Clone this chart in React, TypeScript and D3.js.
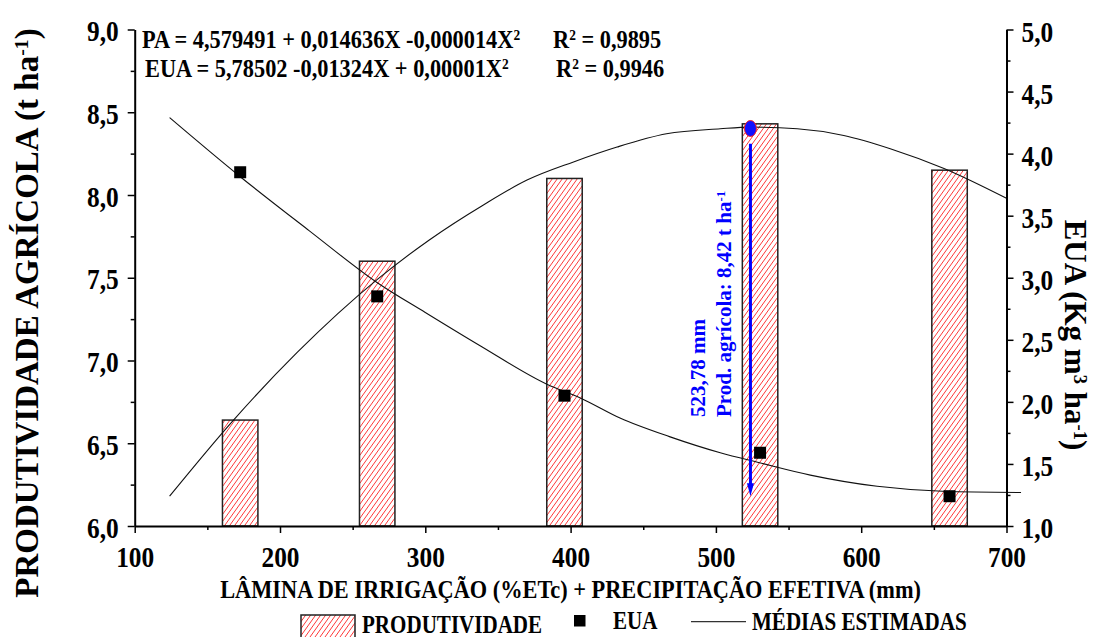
import React, { useEffect, useRef } from "react";
import * as d3 from "d3";

// lâmina de irrigação + precipitação efetiva (mm)
const lamina = [172.6, 266.9, 395.8, 530.4, 660.8];
// produtividade agrícola (t ha-1) - eixo esquerdo
const produtividade = [6.64, 7.6, 8.1, 8.43, 8.15];
// EUA (kg m3 ha-1) - eixo direito
const eua = [3.85, 2.85, 2.05, 1.59, 1.24];

// médias estimadas
const paCurveX = [124, 168, 212, 267, 303, 340, 370, 402, 432, 466, 503, 524, 556, 588, 620, 657, 700];
const paCurveY = [6.18, 6.64, 7.05, 7.49, 7.73, 7.94, 8.09, 8.2, 8.29, 8.37, 8.4, 8.41, 8.4, 8.36, 8.28, 8.16, 7.98];
const euaCurveX = [124, 172, 220, 267, 300, 338, 384, 407, 434, 468, 503, 530, 565, 611, 656, 710];
const euaCurveY = [4.29, 3.82, 3.38, 2.96, 2.72, 2.45, 2.14, 2.03, 1.87, 1.72, 1.59, 1.51, 1.41, 1.32, 1.28, 1.27];

const xTicks = [100, 200, 300, 400, 500, 600, 700];
const xMinor = [150, 250, 350, 450, 550, 650];
const leftTicks = [6, 6.5, 7, 7.5, 8, 8.5, 9];
const leftMinor = [6.25, 6.75, 7.25, 7.75, 8.25, 8.75];
const rightTicks = [1, 1.5, 2, 2.5, 3, 3.5, 4, 4.5, 5];
const rightMinor = [1.25, 1.75, 2.25, 2.75, 3.25, 3.75, 4.25, 4.75];

// ponto de máxima
const laminaMax = 523.78;
const prodMax = 8.42;
const setaTopo = 8.31;
const setaFim = 6.18;
const barLargura = 24.4;

const W = 1095;
const H = 637;
const FONT = "'Liberation Serif', 'Times New Roman', serif";
const SX = 0.86; // texto horizontal um pouco comprimido, como no original

const App = () => {
    const ref = useRef<SVGSVGElement>(null);

    useEffect(() => {
        const svg = d3.select(ref.current);
        svg.selectAll("*").remove();

        const x = d3.scaleLinear().domain([100, 700]).range([134.7, 1006.5]);
        const yL = d3.scaleLinear().domain([6, 9]).range([526, 29.5]);
        const yR = d3.scaleLinear().domain([1, 5]).range([526, 29.5]);
        const fmt = (d: any) => d3.format(".1f")(d).replace(".", ",");

        // hachura vermelha
        const pat = svg.append("defs").append("pattern")
            .attr("id", "hatch")
            .attr("patternUnits", "userSpaceOnUse")
            .attr("width", 5)
            .attr("height", 7);
        pat.append("rect").attr("width", 5).attr("height", 7).attr("fill", "#fff");
        pat.append("path")
            .attr("d", "M-1,8.4L6,-1.4M-6,8.4L1,-1.4M4,8.4L11,-1.4")
            .attr("stroke", "#ff2020")
            .attr("stroke-width", 0.9);

        // barras
        svg.append("g").selectAll("rect")
            .data(lamina)
            .join("rect")
            .attr("x", d => x(d - barLargura / 2))
            .attr("width", d => x(d + barLargura / 2) - x(d - barLargura / 2))
            .attr("y", (d, i) => yL(produtividade[i]))
            .attr("height", (d, i) => yL(6) - yL(produtividade[i]))
            .attr("fill", "url(#hatch)")
            .attr("stroke", "#222")
            .attr("stroke-width", 1.5);

        // curvas
        const lineL = d3.line<number>()
            .x(d => x(d))
            .y((d, i) => yL(paCurveY[i]))
            .curve(d3.curveMonotoneX);
        const lineR = d3.line<number>()
            .x(d => x(d))
            .y((d, i) => yR(euaCurveY[i]))
            .curve(d3.curveMonotoneX);
        svg.append("path").attr("d", lineL(paCurveX)).attr("fill", "none").attr("stroke", "#111").attr("stroke-width", 1.1);
        svg.append("path").attr("d", lineR(euaCurveX)).attr("fill", "none").attr("stroke", "#111").attr("stroke-width", 1.1);

        // pontos EUA
        svg.append("g").selectAll("rect")
            .data(lamina)
            .join("rect")
            .attr("x", d => x(d) - 6)
            .attr("y", (d, i) => yR(eua[i]) - 6)
            .attr("width", 12)
            .attr("height", 12)
            .attr("fill", "#000");

        // eixos
        const styleAxis = (g: any) => {
            g.attr("font-family", FONT).attr("font-size", 29.5).attr("font-weight", "bold");
            g.select(".domain").attr("stroke-width", 2);
            g.selectAll(".tick line").attr("stroke-width", 1.5);
            g.selectAll(".tick text").each(function (this: any) {
                const t = d3.select(this);
                t.attr("x", (+t.attr("x") || 0) / SX).attr("transform", `scale(${SX},1)`);
            });
        };
        const minor = (g: any) => {
            g.select(".domain").remove();
            g.selectAll(".tick line").attr("stroke-width", 1.5);
        };

        svg.append("g").attr("transform", `translate(0,${yL(6)})`)
            .call(d3.axisBottom(x).tickValues(xMinor).tickSize(4).tickFormat(() => ""))
            .call(minor);
        svg.append("g").attr("transform", `translate(0,${yL(6)})`)
            .call(d3.axisBottom(x).tickValues(xTicks).tickSize(7).tickSizeOuter(0).tickPadding(13).tickFormat(d3.format("d")))
            .call(styleAxis);

        svg.append("g").attr("transform", `translate(${x(100)},0)`)
            .call(d3.axisLeft(yL).tickValues(leftMinor).tickSize(4).tickFormat(() => ""))
            .call(minor);
        const axL = svg.append("g").attr("transform", `translate(${x(100)},0)`)
            .call(d3.axisLeft(yL).tickValues(leftTicks).tickSize(7).tickSizeOuter(0).tickPadding(9).tickFormat(fmt))
            .call(styleAxis);
        axL.selectAll(".tick text").attr("dy", "0.38em");

        svg.append("g").attr("transform", `translate(${x(700)},0)`)
            .call(d3.axisRight(yR).tickValues(rightMinor).tickSize(4).tickFormat(() => ""))
            .call(minor);
        const axR = svg.append("g").attr("transform", `translate(${x(700)},0)`)
            .call(d3.axisRight(yR).tickValues(rightTicks).tickSize(7).tickSizeOuter(0).tickPadding(8).tickFormat(fmt))
            .call(styleAxis);
        axR.selectAll(".tick text").attr("dy", "0.4em");

        // textos
        const bold = (sel: any, size: number) =>
            sel.attr("font-family", FONT).attr("font-weight", "bold").attr("font-size", size).attr("fill", "#000");
        const htext = (px: number, py: number, size: number) =>
            bold(svg.append("text"), size).attr("transform", `translate(${px},${py}) scale(${SX},1)`);

        const sup = (t: any, s: string, back: string) => {
            t.append("tspan").attr("dy", "-0.5em").attr("font-size", "0.6em").text(s);
            t.append("tspan").attr("dy", "0.3em").text(back);
        };

        htext((x(100) + x(700)) / 2, 598, 26)
            .attr("text-anchor", "middle")
            .text("LÂMINA DE IRRIGAÇÃO (%ETc) + PRECIPITAÇÃO EFETIVA (mm)");

        const tL = bold(svg.append("text"), 33)
            .attr("transform", "translate(38,313) rotate(-90)")
            .attr("text-anchor", "middle");
        tL.append("tspan").text("PRODUTIVIDADE AGRÍCOLA (t ha");
        sup(tL, "-1", ")");

        const tR = bold(svg.append("text"), 31)
            .attr("transform", "translate(1065,335) rotate(90)")
            .attr("text-anchor", "middle");
        tR.append("tspan").text("EUA (Kg m");
        sup(tR, "3", " ha");
        sup(tR, "-1", ")");

        // equações
        const eq = (txt: string, r2: string, x0: number, xr: number, y0: number) => {
            const t = htext(x0, y0, 26);
            t.append("tspan").text(txt);
            t.append("tspan").attr("dy", "-0.5em").attr("font-size", "0.6em").text("2");
            const r = htext(xr, y0, 26);
            r.append("tspan").text("R");
            sup(r, "2", " = " + r2);
        };
        eq("PA = 4,579491 + 0,014636X -0,000014X", "0,9895", 142, 553, 48);
        eq("EUA = 5,78502 -0,01324X + 0,00001X", "0,9946", 145, 556, 77);

        // ponto de máxima e seta
        const xm = x(laminaMax);
        svg.append("line")
            .attr("x1", xm).attr("x2", xm)
            .attr("y1", yL(setaTopo)).attr("y2", yL(setaFim) - 10)
            .attr("stroke", "#0000ff").attr("stroke-width", 3);
        svg.append("path")
            .attr("d", `M${xm - 3.5},${yL(setaFim) - 13}L${xm + 3.5},${yL(setaFim) - 13}L${xm},${yL(setaFim)}Z`)
            .attr("fill", "#0000ff");
        svg.append("ellipse")
            .attr("cx", xm).attr("cy", yL(prodMax) + 3)
            .attr("rx", 6).attr("ry", 8)
            .attr("fill", "#1010ff").attr("stroke", "#ff2020").attr("stroke-width", 1);

        bold(svg.append("text"), 21)
            .attr("transform", `translate(${xm - 45},417) rotate(-90)`)
            .attr("fill", "#0000ff")
            .text("523,78 mm");
        const tp = bold(svg.append("text"), 21)
            .attr("transform", `translate(${xm - 19},417) rotate(-90)`)
            .attr("fill", "#0000ff");
        tp.append("tspan").text("Prod. agrícola: 8,42 t ha");
        tp.append("tspan").attr("dy", "-0.5em").attr("font-size", "0.6em").text("-1");

        // legenda
        svg.append("rect").attr("x", 301).attr("y", 615).attr("width", 54).attr("height", 24)
            .attr("fill", "url(#hatch)").attr("stroke", "#222").attr("stroke-width", 1.5);
        htext(362, 633, 24.5).text("PRODUTIVIDADE");
        svg.append("rect").attr("x", 574).attr("y", 615).attr("width", 11.5).attr("height", 11.5).attr("fill", "#000");
        htext(613, 629, 24.5).text("EUA");
        svg.append("line").attr("x1", 691).attr("x2", 746).attr("y1", 621.7).attr("y2", 621.7)
            .attr("stroke", "#333").attr("stroke-width", 1.3);
        htext(752, 630, 24.5).text("MÉDIAS ESTIMADAS");
    }, []);

    return (
        <svg ref={ref} width={W} height={H}
             style={{position: "absolute", left: 0, top: 0, background: "#fff"}}/>
    );
};

export default App;
